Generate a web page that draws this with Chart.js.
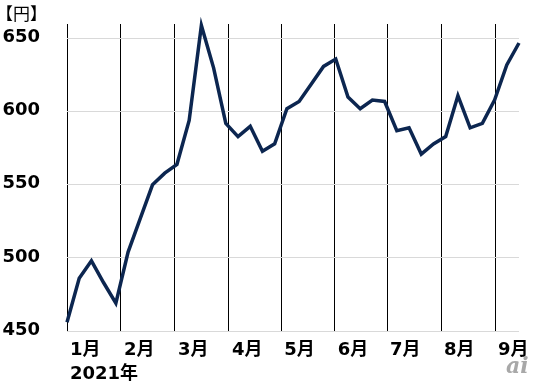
<!DOCTYPE html>
<html><head><meta charset="utf-8">
<script src="https://cdn.jsdelivr.net/npm/chart.js@4"></script>
<style>html,body{margin:0;padding:0;background:#fff}#wrap{width:535px;height:383px}</style>
</head><body><div id="wrap"><canvas id="c" width="535" height="383"></canvas></div>
<script>
// Weekly price (円), Jan–Sep 2021
const prices = [456,486,498,483,469,504,527,550,558,564,594,659,630,592,583,590,573,578,602,607,619,631,636,610,602,608,607,587,589,571,578,583,611,589,592,608,632,647];
const weekIndex = prices.map((_, i) => i);
// week position at which each month starts
const monthStarts = [0, 4.42, 8.84, 13.26, 17.54, 21.92, 26.2, 30.62, 35.04];
const monthLabels = [['1月', '2021年'], '2月', '3月', '4月', '5月', '6月', '7月', '8月', '9月'];
const yTicks = [450, 500, 550, 600, 650];
const yMin = 450, yMax = 660;
const unitLabel = '【円】';
const watermark = 'ai';

const FAMILY = "'DejaVu Sans', 'Noto Sans CJK JP', sans-serif";

const textPlugin = {
  id: 'extraText',
  afterDraw(chart) {
    const ctx = chart.ctx;
    ctx.save();
    ctx.font = "17px 'Noto Sans CJK JP'";
    ctx.fillStyle = '#000';
    ctx.textBaseline = 'top';
    ctx.textAlign = 'left';
    ctx.fillText(unitLabel, -4, 5);
    ctx.font = "italic bold 22px 'DejaVu Serif'";
    ctx.fillStyle = '#a8a8a8';
    ctx.textBaseline = 'alphabetic';
    ctx.fillText(watermark, 506, 373);
    ctx.restore();
  }
};

new Chart(document.getElementById('c'), {
  type: 'line',
  data: {
    datasets: [{
      data: prices.map((v, i) => ({ x: weekIndex[i], y: v })),
      borderColor: '#0c2650',
      borderWidth: 3.5,
      pointRadius: 0,
      tension: 0,
      fill: false,
      clip: false
    }]
  },
  options: {
    responsive: false,
    animation: false,
    devicePixelRatio: 1,
    layout: { padding: { top: 24, right: 16, left: 0, bottom: 0 } },
    plugins: { legend: { display: false }, tooltip: { enabled: false }, title: { display: false } },
    scales: {
      x: {
        type: 'linear',
        min: 0,
        max: prices.length - 1,
        afterBuildTicks(scale) { scale.ticks = monthStarts.map(v => ({ value: v })); },
        afterFit(scale) { scale.height = 52; scale.paddingLeft = 0; scale.paddingRight = 0; },
        grid: { color: '#000', lineWidth: 1, drawTicks: false },
        border: { display: false },
        ticks: {
          autoSkip: false,
          maxRotation: 0,
          minRotation: 0,
          align: 'start',
          labelOffset: 3,
          padding: 8,
          color: '#000',
          font: { family: FAMILY, size: 18, weight: 'bold', lineHeight: 1.3 },
          callback(value, index) { return monthLabels[index]; }
        }
      },
      y: {
        min: yMin,
        max: yMax,
        afterBuildTicks(scale) { scale.ticks = yTicks.map(v => ({ value: v })); },
        afterFit(scale) { scale.width = 67; scale.paddingTop = 0; scale.paddingBottom = 0; },
        grid: { color: '#d9d9d9', lineWidth: 1, drawTicks: false },
        border: { display: false },
        ticks: {
          padding: 27,
          labelOffset: -1,
          color: '#000',
          font: { family: FAMILY, size: 18, weight: 'bold' }
        }
      }
    }
  },
  plugins: [textPlugin]
});
</script>
</body></html>
